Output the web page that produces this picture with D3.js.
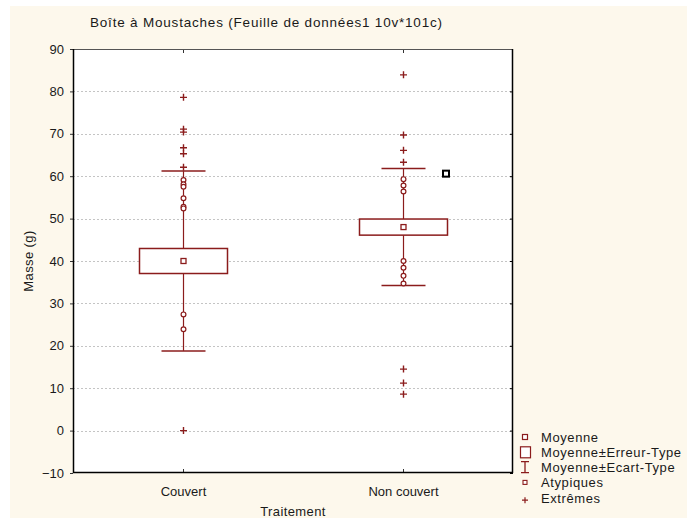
<!DOCTYPE html>
<html>
<head>
<meta charset="utf-8">
<script src="https://cdn.jsdelivr.net/npm/d3@7"></script>
<style>
  html, body { margin: 0; padding: 0; background: #ffffff; }
  svg { display: block; font-family: "Liberation Sans", Arial, sans-serif; }
</style>
</head>
<body>
<svg id="chart" width="687" height="522"></svg>
<script>
// Box plot: mean, mean ± standard error (box), mean ± standard deviation (whiskers)
const categories = ["Couvert", "Non couvert"];
const means = [40.0, 48.0];
const stdErrors = [2.95, 1.9];
const stdDevs = [21.2, 13.8];
const outliers = [
  [59.1, 58.1, 57.5, 54.8, 52.8, 52.4, 27.4, 23.9],
  [59.3, 57.8, 56.4, 40.0, 38.4, 36.5, 34.7]
];
const extremes = [
  [78.6, 71.1, 70.4, 66.7, 65.3, 62.1, 0],
  [83.9, 69.7, 66.1, 63.3, 14.5, 11.2, 8.6]
];
const selectedCategory = ["Non couvert"];
const selectedValue = [60.6];
const yTicks = [-10, 0, 10, 20, 30, 40, 50, 60, 70, 80, 90];
const legendLabels = ["Moyenne", "Moyenne±Erreur-Type", "Moyenne±Ecart-Type", "Atypiques", "Extrêmes"];

const title = "Boîte à Moustaches (Feuille de données1 10v*101c)";
const xTitle = "Traitement";
const yTitle = "Masse (g)";

const red = "#8b1c1c";
const textColor = "#1a1a1a";

const svg = d3.select("#chart");
const W = 687, H = 522;
const plot = { left: 73, right: 513, top: 49, bottom: 473 };

// page background
svg.append("rect").attr("width", W).attr("height", H).attr("fill", "#ffffff");
svg.append("rect").attr("x", 10).attr("y", 6).attr("width", W - 10).attr("height", 512).attr("fill", "#fdf8ec");
svg.append("rect")
  .attr("x", plot.left).attr("y", plot.top)
  .attr("width", plot.right - plot.left).attr("height", plot.bottom - plot.top)
  .attr("fill", "#ffffff");

const x = d3.scalePoint().domain(categories).range([plot.left, plot.right]).padding(0.5);
const y = d3.scaleLinear().domain([-10, 90]).range([plot.bottom, plot.top]);

// dotted grid
svg.append("g").selectAll("line")
  .data(yTicks.filter(t => t > -10 && t < 90))
  .join("line")
  .attr("x1", plot.left).attr("x2", plot.right)
  .attr("y1", d => Math.round(y(d)) + 0.5).attr("y2", d => Math.round(y(d)) + 0.5)
  .attr("stroke", "#c4c4c4").attr("stroke-width", 1).attr("stroke-dasharray", "2,2");

// axes
const leftAxis = d3.axisLeft(y).tickValues(yTicks).tickSize(3).tickPadding(6);
const gLeft = svg.append("g").attr("transform", `translate(${plot.left},0)`).call(leftAxis);
gLeft.select(".domain").remove();
gLeft.selectAll(".tick line").attr("stroke", "#333");
gLeft.selectAll(".tick text").attr("font-size", 13).attr("fill", textColor)
  .attr("font-family", "'Liberation Sans', Arial, sans-serif");

const rightAxis = d3.axisLeft(y).tickValues(yTicks).tickSize(3).tickFormat("");
const gRight = svg.append("g").attr("transform", `translate(${plot.right},0)`).call(rightAxis);
gRight.select(".domain").remove();
gRight.selectAll(".tick line").attr("stroke", "#000");

const bottomAxis = d3.axisBottom(x).tickSize(-4).tickPadding(14);
const gBottom = svg.append("g").attr("transform", `translate(0,${plot.bottom})`).call(bottomAxis);
gBottom.select(".domain").remove();
gBottom.selectAll(".tick line").attr("stroke", "#333");
gBottom.selectAll(".tick text").attr("font-size", 13).attr("fill", textColor)
  .attr("font-family", "'Liberation Sans', Arial, sans-serif");

const topAxis = d3.axisTop(x).tickSize(-4).tickFormat("");
const gTop = svg.append("g").attr("transform", `translate(0,${plot.top})`).call(topAxis);
gTop.select(".domain").remove();
gTop.selectAll(".tick line").attr("stroke", "#333");

// frame
svg.append("line").attr("x1", plot.left).attr("x2", plot.right).attr("y1", plot.top + 0.5).attr("y2", plot.top + 0.5)
  .attr("stroke", "#555").attr("stroke-width", 1.2);
svg.append("line").attr("x1", plot.right - 0.5).attr("x2", plot.right - 0.5).attr("y1", plot.top).attr("y2", plot.bottom)
  .attr("stroke", "#000").attr("stroke-width", 1.5);
svg.append("line").attr("x1", plot.left + 0.5).attr("x2", plot.left + 0.5).attr("y1", plot.top).attr("y2", plot.bottom)
  .attr("stroke", "#000").attr("stroke-width", 1.5);
svg.append("line").attr("x1", plot.left).attr("x2", plot.right).attr("y1", plot.bottom - 0.5).attr("y2", plot.bottom - 0.5)
  .attr("stroke", "#000").attr("stroke-width", 1.5);

// titles
svg.append("text").attr("x", 266).attr("y", 27).attr("text-anchor", "middle")
  .attr("font-size", 13.5).attr("fill", textColor).attr("textLength", 352).attr("lengthAdjust", "spacing")
  .text(title);
svg.append("text").attr("x", (plot.left + plot.right) / 2).attr("y", 516).attr("text-anchor", "middle")
  .attr("font-size", 13).attr("fill", textColor).attr("letter-spacing", 0.4).text(xTitle);
svg.append("text").attr("transform", `translate(33,${(plot.top + plot.bottom) / 2}) rotate(-90)`)
  .attr("text-anchor", "middle").attr("font-size", 13).attr("fill", textColor).attr("letter-spacing", 0.4)
  .text(yTitle);

const boxHalf = 44, capHalf = 22;
const stats = categories.map((c, i) => ({
  cat: c, mean: means[i], se: stdErrors[i], sd: stdDevs[i],
  outliers: outliers[i], extremes: extremes[i]
}));

const g = svg.append("g");
stats.forEach(s => {
  const cx = Math.round(x(s.cat)) + 0.5;
  // whiskers
  g.append("line").attr("x1", cx).attr("x2", cx)
    .attr("y1", y(s.mean + s.sd)).attr("y2", y(s.mean + s.se))
    .attr("stroke", red).attr("stroke-width", 1.2);
  g.append("line").attr("x1", cx).attr("x2", cx)
    .attr("y1", y(s.mean - s.se)).attr("y2", y(s.mean - s.sd))
    .attr("stroke", red).attr("stroke-width", 1.2);
  [s.mean + s.sd, s.mean - s.sd].forEach(v => {
    g.append("line").attr("x1", cx - capHalf).attr("x2", cx + capHalf)
      .attr("y1", y(v)).attr("y2", y(v))
      .attr("stroke", red).attr("stroke-width", 1.5);
  });
  // box
  g.append("rect").attr("x", cx - boxHalf).attr("y", y(s.mean + s.se))
    .attr("width", boxHalf * 2).attr("height", y(s.mean - s.se) - y(s.mean + s.se))
    .attr("fill", "#ffffff").attr("stroke", red).attr("stroke-width", 1.5);
  // mean
  g.append("rect").attr("x", cx - 2.5).attr("y", y(s.mean) - 2.5).attr("width", 5).attr("height", 5)
    .attr("fill", "#ffffff").attr("stroke", red).attr("stroke-width", 1.3);
  // outliers
  g.selectAll(null).data(s.outliers).join("circle")
    .attr("cx", cx).attr("cy", d => y(d)).attr("r", 2.4)
    .attr("fill", "#ffffff").attr("stroke", red).attr("stroke-width", 1.2);
  // extremes
  g.selectAll(null).data(s.extremes).join("path")
    .attr("d", d => `M${cx - 3.5},${y(d)}H${cx + 3.5}M${cx},${y(d) - 3.5}V${y(d) + 3.5}`)
    .attr("stroke", red).attr("stroke-width", 1.4);
});

// highlighted point
selectedCategory.forEach((c, i) => {
  const px = Math.round(x(c)) + boxHalf - 1;
  const py = y(selectedValue[i]);
  g.append("rect").attr("x", px - 3).attr("y", py - 3).attr("width", 6).attr("height", 6)
    .attr("fill", "#ffffff").attr("stroke", "#000").attr("stroke-width", 2);
});

// legend
const lg = svg.append("g");
const lx = 525, ly0 = 437, lstep = 15.3;
legendLabels.forEach((lab, i) => {
  const cy = ly0 + i * lstep;
  lg.append("text").attr("x", 541).attr("y", cy + 4.5).attr("font-size", 13)
    .attr("fill", textColor).attr("letter-spacing", 0.6).text(lab);
});
lg.append("rect").attr("x", lx - 2.5).attr("y", ly0 - 2.5).attr("width", 5).attr("height", 5)
  .attr("fill", "#fff").attr("stroke", red).attr("stroke-width", 1.2);
lg.append("rect").attr("x", lx - 4.5).attr("y", ly0 + lstep - 5.5).attr("width", 10).attr("height", 11)
  .attr("fill", "#fff").attr("stroke", red).attr("stroke-width", 1.2);
{
  const cy = ly0 + 2 * lstep;
  lg.append("path").attr("d", `M${lx - 4},${cy - 6}H${lx + 4}M${lx},${cy - 6}V${cy + 5}M${lx - 4},${cy + 5}H${lx + 4}`)
    .attr("stroke", red).attr("stroke-width", 1.3).attr("fill", "none");
}
lg.append("rect").attr("x", lx - 2).attr("y", ly0 + 3 * lstep - 2.5).attr("width", 4).attr("height", 4)
  .attr("fill", "#fff").attr("stroke", red).attr("stroke-width", 1.1);
{
  const cy = ly0 + 4 * lstep + 2;
  lg.append("path").attr("d", `M${lx - 3},${cy}H${lx + 3}M${lx},${cy - 3}V${cy + 3}`)
    .attr("stroke", red).attr("stroke-width", 1.2);
}
</script>
</body>
</html>
